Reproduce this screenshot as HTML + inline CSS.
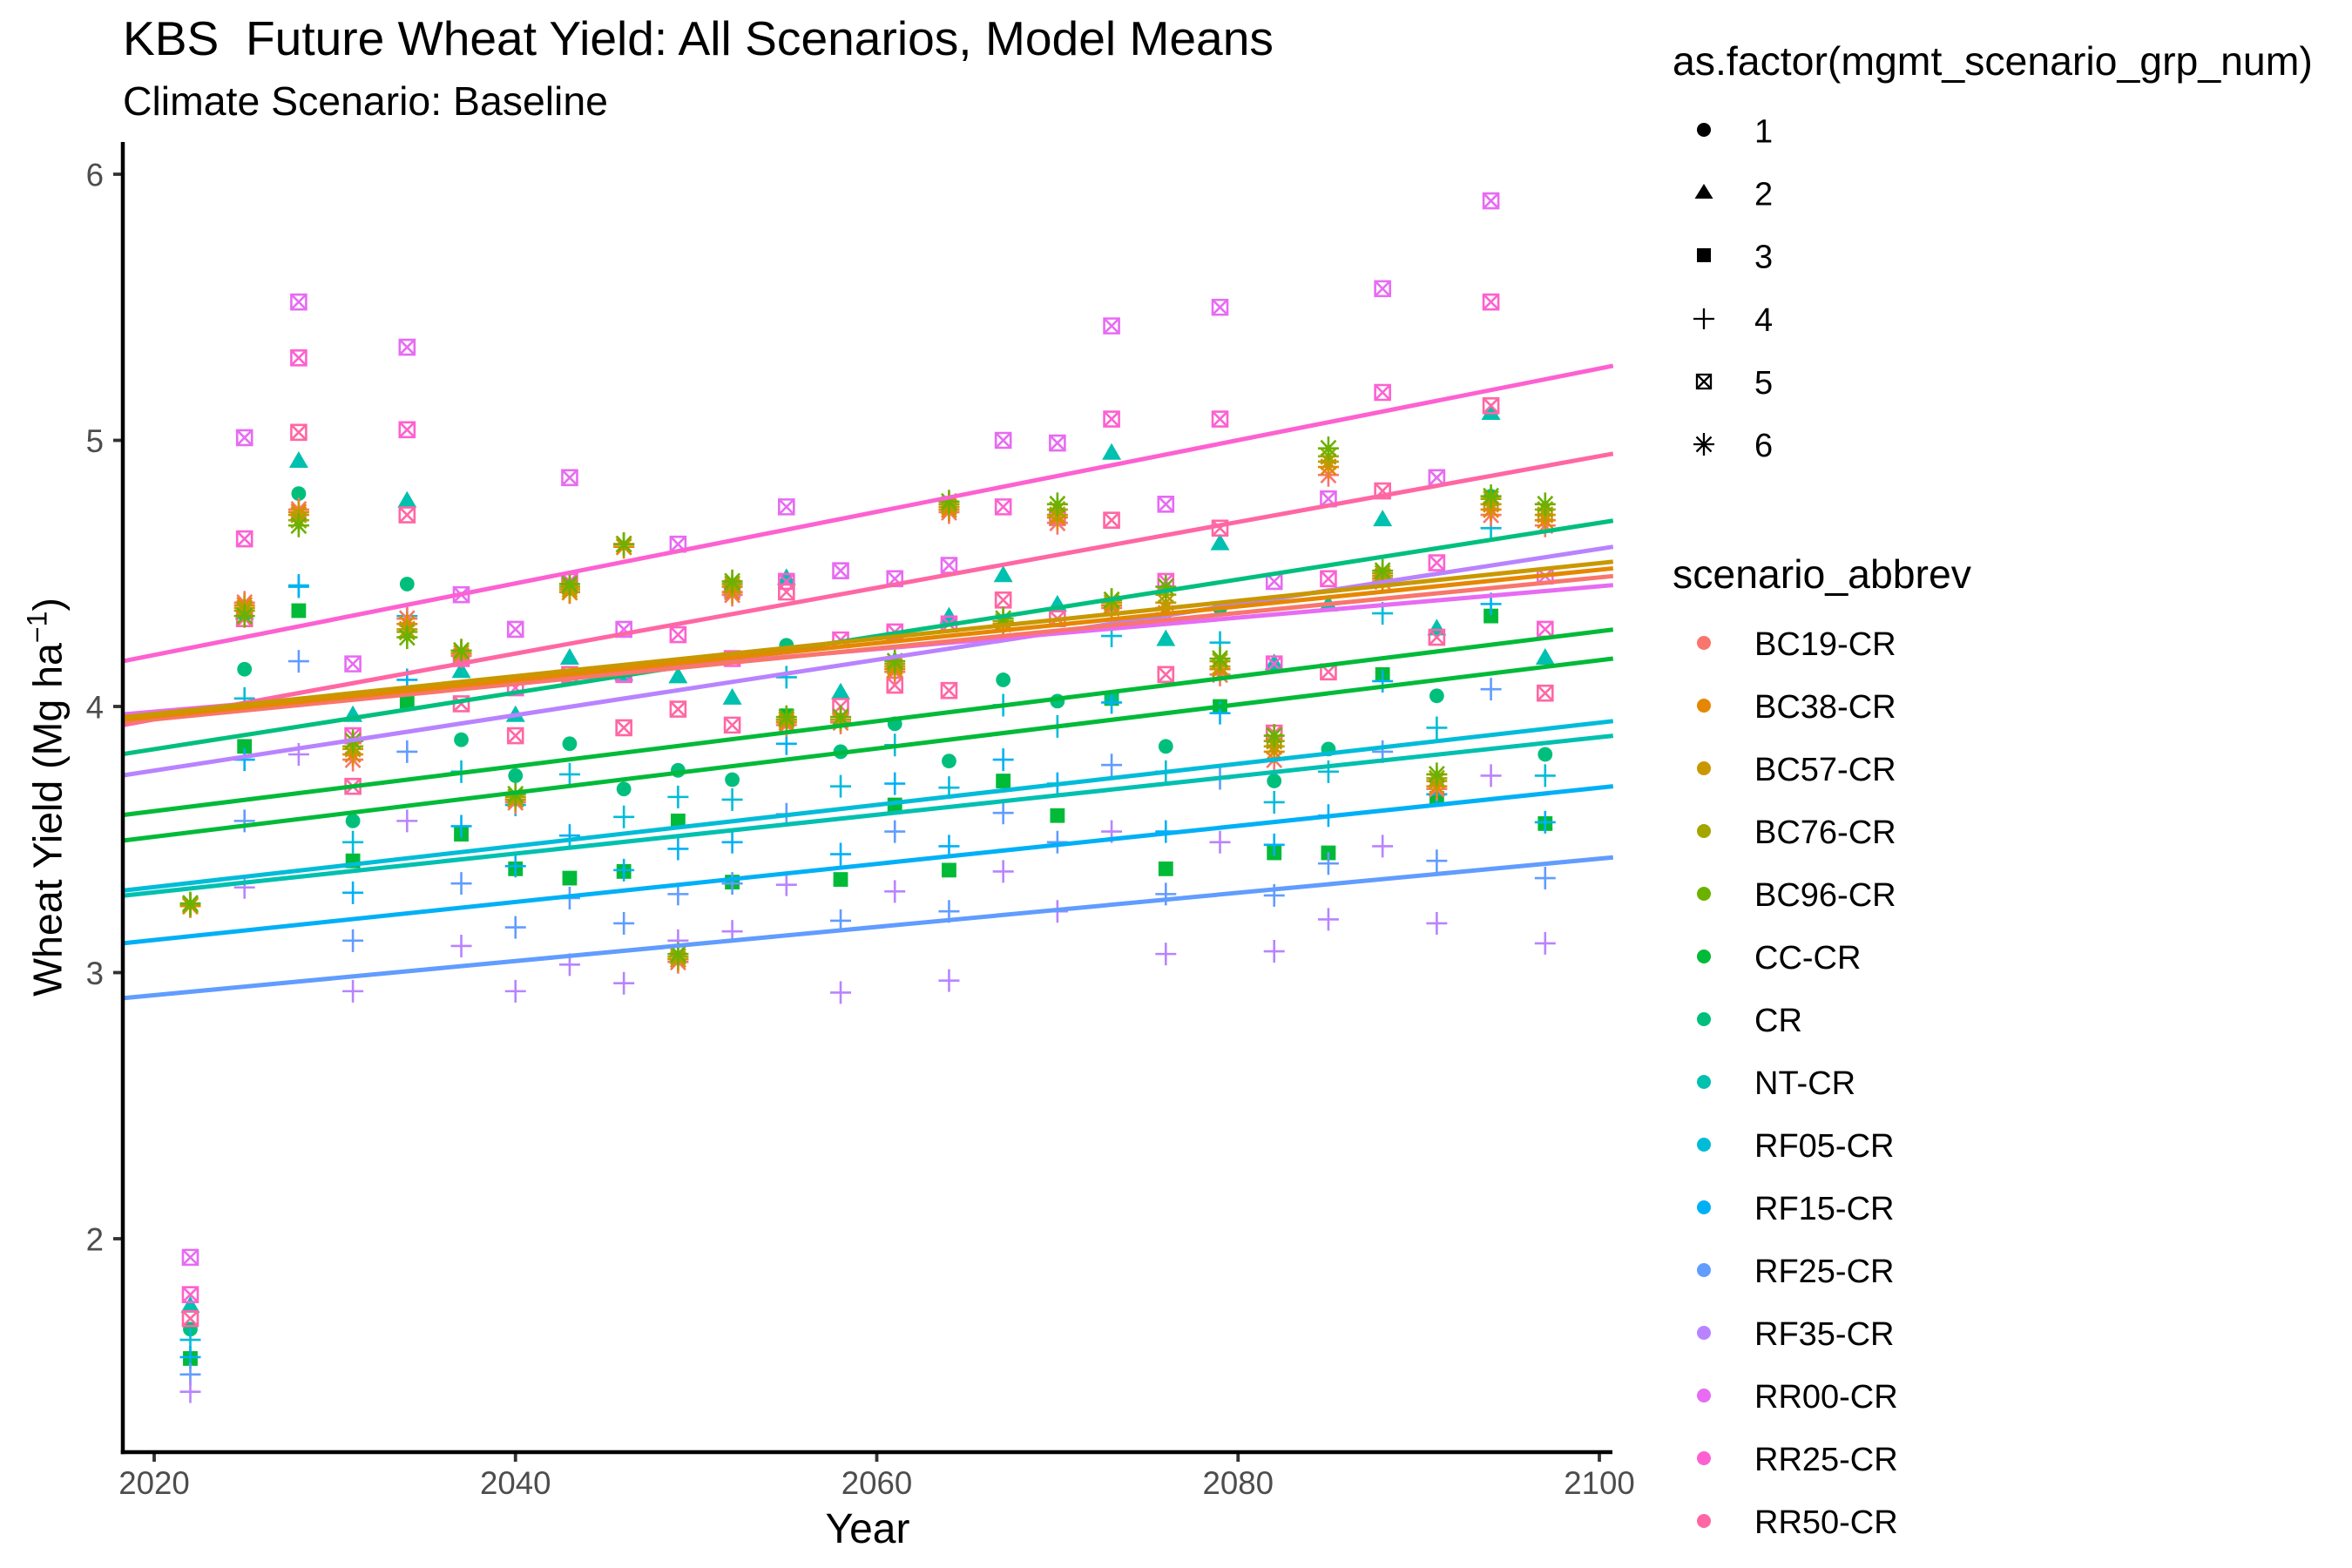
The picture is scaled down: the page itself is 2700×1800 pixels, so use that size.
<!DOCTYPE html>
<html lang="en">
<head>
<meta charset="utf-8">
<title>KBS Future Wheat Yield: All Scenarios, Model Means</title>
<style>
html,body{margin:0;padding:0;background:#fff;}
svg{display:block;font-family:"Liberation Sans",Arial,sans-serif;}
</style>
</head>
<body>
<svg id="chart" xmlns="http://www.w3.org/2000/svg" width="2700" height="1800" viewBox="0 0 2700 1800">
  <rect x="0" y="0" width="2700" height="1800" fill="#fff"/>
  <text x="141" y="63" font-size="55.15" fill="#000" xml:space="preserve">KBS  Future Wheat Yield: All Scenarios, Model Means</text>
  <text x="141" y="132" font-size="46.4" fill="#000">Climate Scenario: Baseline</text>
  <g id="marks"></g>
  <g id="fits"></g>
  <g id="axes"></g>
  <text x="996" y="1771" font-size="48" text-anchor="middle" fill="#000">Year</text>
  <text transform="translate(70.5,915) rotate(-90)" font-size="46.5" text-anchor="middle" fill="#000">Wheat Yield (Mg ha<tspan font-size="32" dy="-17">−1</tspan><tspan dy="17">)</tspan></text>

  <g>
    <text x="1920" y="86" font-size="46.4" fill="#000">as.factor(mgmt_scenario_grp_num)</text>
    <circle cx="1956" cy="149" r="8" fill="#000"/>
    <text x="2014" y="163.5" font-size="38" fill="#000">1</text>
    <polygon points="1956,211 1966.5,228 1945.5,228" fill="#000"/>
    <text x="2014" y="235.5" font-size="38" fill="#000">2</text>
    <rect x="1948" y="285" width="16" height="16" fill="#000"/>
    <text x="2014" y="307.5" font-size="38" fill="#000">3</text>
    <path d="M1944 366H1968M1956 354V378" stroke="#000" stroke-width="2.3" fill="none"/>
    <text x="2014" y="380" font-size="38" fill="#000">4</text>
    <path d="M1948 430H1964V446H1948ZM1948 430L1964 446M1964 430L1948 446" stroke="#000" stroke-width="2.3" fill="none"/>
    <text x="2014" y="452" font-size="38" fill="#000">5</text>
    <path d="M1944 510H1968M1956 497V523M1947.5 501.5L1964.5 518.5M1964.5 501.5L1947.5 518.5" stroke="#000" stroke-width="2.3" fill="none"/>
    <text x="2014" y="524" font-size="38" fill="#000">6</text>
  </g>

  <g>
    <text x="1920" y="675" font-size="46.4" fill="#000">scenario_abbrev</text>
    <circle cx="1956" cy="738" r="8" fill="#F8766D"/>
    <text x="2014" y="752" font-size="38" fill="#000">BC19-CR</text>
    <circle cx="1956" cy="810" r="8" fill="#E58700"/>
    <text x="2014" y="824" font-size="38" fill="#000">BC38-CR</text>
    <circle cx="1956" cy="882" r="8" fill="#C99800"/>
    <text x="2014" y="896" font-size="38" fill="#000">BC57-CR</text>
    <circle cx="1956" cy="954" r="8" fill="#A3A500"/>
    <text x="2014" y="968" font-size="38" fill="#000">BC76-CR</text>
    <circle cx="1956" cy="1026" r="8" fill="#6BB100"/>
    <text x="2014" y="1040" font-size="38" fill="#000">BC96-CR</text>
    <circle cx="1956" cy="1098" r="8" fill="#00BA38"/>
    <text x="2014" y="1112" font-size="38" fill="#000">CC-CR</text>
    <circle cx="1956" cy="1170" r="8" fill="#00BF7D"/>
    <text x="2014" y="1184" font-size="38" fill="#000">CR</text>
    <circle cx="1956" cy="1242" r="8" fill="#00C0AF"/>
    <text x="2014" y="1256" font-size="38" fill="#000">NT-CR</text>
    <circle cx="1956" cy="1314" r="8" fill="#00BCD8"/>
    <text x="2014" y="1328" font-size="38" fill="#000">RF05-CR</text>
    <circle cx="1956" cy="1386" r="8" fill="#00B0F6"/>
    <text x="2014" y="1400" font-size="38" fill="#000">RF15-CR</text>
    <circle cx="1956" cy="1458" r="8" fill="#619CFF"/>
    <text x="2014" y="1472" font-size="38" fill="#000">RF25-CR</text>
    <circle cx="1956" cy="1530" r="8" fill="#B983FF"/>
    <text x="2014" y="1544" font-size="38" fill="#000">RF35-CR</text>
    <circle cx="1956" cy="1602" r="8" fill="#E76BF3"/>
    <text x="2014" y="1616" font-size="38" fill="#000">RR00-CR</text>
    <circle cx="1956" cy="1674" r="8" fill="#FD61D1"/>
    <text x="2014" y="1688" font-size="38" fill="#000">RR25-CR</text>
    <circle cx="1956" cy="1746" r="8" fill="#FF67A4"/>
    <text x="2014" y="1760" font-size="38" fill="#000">RR50-CR</text>
  </g>
</svg>
<script>
const years = [2022,2025,2028,2031,2034,2037,2040,2043,2046,2049,2052,2055,2058,2061,2064,2067,2070,2073,2076,2079,2082,2085,2088,2091,2094,2097];
const xTicks = [2020,2040,2060,2080,2100];
const yTicks = [2,3,4,5,6];

const ccValues   = [1.55,3.85,4.36,3.42,4.02,3.52,3.39,3.355,3.38,3.57,3.34,3.965,3.35,3.63,3.385,3.72,3.59,4.03,3.39,4.00,3.45,3.45,4.12,3.655,4.34,3.56];
const crValues   = [1.66,4.14,4.80,3.57,4.46,3.875,3.74,3.86,3.69,3.76,3.725,4.23,3.83,3.935,3.795,4.10,4.02,4.03,3.85,4.37,3.72,3.84,4.49,4.04,4.79,3.82];
const ntValues   = [1.745,4.35,4.92,3.965,4.77,4.13,3.965,4.18,4.12,4.11,4.03,4.48,4.05,4.17,4.335,4.49,4.38,4.95,4.25,4.61,4.16,4.38,4.70,4.29,5.10,4.18];
const rf05Values = [1.62,4.03,4.455,3.49,4.34,3.755,3.63,3.745,3.585,3.66,3.65,4.11,3.70,3.855,3.695,4.005,3.925,4.265,3.755,4.24,3.64,3.755,4.35,3.92,4.67,3.74];
const rf15Values = [1.555,3.80,4.45,3.30,4.10,3.55,3.40,3.515,3.385,3.465,3.49,3.86,3.445,3.71,3.475,3.80,3.71,4.015,3.53,3.975,3.48,3.59,4.095,3.67,4.385,3.565];
const rf25Values = [1.49,3.57,4.17,3.12,3.83,3.335,3.17,3.28,3.185,3.295,3.335,3.595,3.195,3.53,3.23,3.60,3.49,3.78,3.295,3.73,3.29,3.41,3.83,3.42,4.065,3.355];
const rf35Values = [1.425,3.32,3.82,2.93,3.57,3.10,2.93,3.03,2.96,3.12,3.155,3.33,2.925,3.305,2.97,3.38,3.23,3.53,3.07,3.49,3.08,3.20,3.475,3.185,3.74,3.11];
const rr00Values = [1.93,5.01,5.52,4.16,5.35,4.42,4.29,4.86,4.29,4.61,4.44,4.75,4.51,4.48,4.53,5.00,4.99,5.43,4.76,5.50,4.47,4.78,5.57,4.86,5.90,4.49];
const rr25Values = [1.79,4.63,5.31,3.89,5.04,4.18,4.07,4.47,4.12,4.27,4.18,4.47,4.25,4.28,4.31,4.75,4.71,5.08,4.47,5.08,4.16,4.48,5.18,4.54,5.52,4.29];
const rr50Values = [1.70,4.33,5.03,3.70,4.72,4.01,3.89,4.12,3.92,3.99,3.93,4.43,4.00,4.08,4.06,4.40,4.33,4.70,4.12,4.67,3.90,4.13,4.81,4.26,5.13,4.05];
const bc19Values = [3.25,4.39,4.74,3.80,4.33,4.19,3.64,4.43,4.60,3.04,4.42,3.93,3.94,4.13,4.73,4.31,4.69,4.37,4.35,4.12,3.80,4.87,4.47,3.69,4.72,4.68];
const bc38Values = [3.25,4.38,4.73,3.82,4.31,4.20,3.65,4.43,4.60,3.05,4.43,3.94,3.95,4.14,4.74,4.31,4.71,4.38,4.37,4.14,3.83,4.90,4.48,3.70,4.74,4.70];
const bc57Values = [3.255,4.37,4.72,3.84,4.29,4.20,3.65,4.44,4.61,3.05,4.45,3.95,3.95,4.15,4.75,4.32,4.72,4.39,4.39,4.15,3.85,4.92,4.49,3.72,4.76,4.72];
const bc76Values = [3.255,4.36,4.70,3.85,4.28,4.21,3.66,4.45,4.61,3.06,4.46,3.95,3.96,4.16,4.76,4.32,4.74,4.40,4.42,4.17,3.87,4.94,4.50,3.73,4.78,4.74];
const bc96Values = [3.26,4.34,4.68,3.87,4.26,4.21,3.67,4.46,4.61,3.07,4.47,3.96,3.96,4.17,4.77,4.33,4.76,4.40,4.45,4.18,3.89,4.97,4.51,3.745,4.79,4.76];

const fitNames = ["cc-upper","cc-lower","cr","nt","rf05","rf15","rf25","rf35","rr00","rr25","rr50","bc19","bc38","bc57"];
const fitAtLeft  = [3.592,3.496,3.821,3.289,3.308,3.11,2.904,3.741,3.97,4.17,3.93,3.94,3.95,3.96];
const fitAtRight = [4.289,4.18,4.698,3.89,3.945,3.70,3.433,4.60,4.456,5.28,4.95,4.49,4.519,4.544];
const fitColors  = ["#00BA38","#00BA38","#00BF7D","#00C0AF","#00BCD8","#00B0F6","#619CFF","#B983FF","#E76BF3","#FD61D1","#FF67A4","#F8766D","#E58700","#C99800"];

const NS = "http://www.w3.org/2000/svg";
const xScale = function (year) { return 177 + (year - 2020) * 20.7375; };
const yScale = function (value) { return 200 + (6 - value) * 305.5; };
const panelLeftYear = 2018.26;
const panelRightYear = 2100.76;

function svgEl(tag, parent) {
  const el = document.createElementNS(NS, tag);
  parent.appendChild(el);
  return el;
}

function drawMark(parent, shape, cx, cy, color) {
  let el;
  if (shape === "circle") {
    el = svgEl("circle", parent);
    el.setAttribute("cx", cx); el.setAttribute("cy", cy); el.setAttribute("r", 8.4);
    el.setAttribute("fill", color);
  } else if (shape === "triangle") {
    el = svgEl("polygon", parent);
    el.setAttribute("points", cx + "," + (cy - 12) + " " + (cx + 11) + "," + (cy + 7) + " " + (cx - 11) + "," + (cy + 7));
    el.setAttribute("fill", color);
  } else if (shape === "square") {
    el = svgEl("rect", parent);
    el.setAttribute("x", cx - 8.4); el.setAttribute("y", cy - 8.4);
    el.setAttribute("width", 16.8); el.setAttribute("height", 16.8);
    el.setAttribute("fill", color);
  } else {
    el = svgEl("path", parent);
    let d = "";
    if (shape === "plus") {
      d = "M" + (cx - 12) + " " + cy + "H" + (cx + 12) + "M" + cx + " " + (cy - 13) + "V" + (cy + 13);
    } else if (shape === "box") {
      d = "M" + (cx - 8.5) + " " + (cy - 8.5) + "h17v17h-17zM" + (cx - 8.5) + " " + (cy - 8.5) + "l17 17M" + (cx + 8.5) + " " + (cy - 8.5) + "l-17 17";
    } else {
      d = "M" + (cx - 12) + " " + cy + "H" + (cx + 12) + "M" + cx + " " + (cy - 13.5) + "V" + (cy + 13.5) +
          "M" + (cx - 8.5) + " " + (cy - 9) + "L" + (cx + 8.5) + " " + (cy + 9) +
          "M" + (cx + 8.5) + " " + (cy - 9) + "L" + (cx - 8.5) + " " + (cy + 9);
    }
    el.setAttribute("d", d);
    el.setAttribute("fill", "none");
    el.setAttribute("stroke", color);
    el.setAttribute("stroke-width", 2.6);
  }
  return el;
}

function drawSeries(name, values, shape, color) {
  const group = svgEl("g", document.getElementById("marks"));
  
  
  values.forEach(function (value, i) {
    const el = drawMark(group, shape, xScale(years[i]), yScale(value), color);
    
    
  });
}

drawSeries("cc", ccValues, "square", "#00BA38");
drawSeries("cr", crValues, "circle", "#00BF7D");
drawSeries("nt", ntValues, "triangle", "#00C0AF");
drawSeries("rf05", rf05Values, "plus", "#00BCD8");
drawSeries("rf15", rf15Values, "plus", "#00B0F6");
drawSeries("rf25", rf25Values, "plus", "#619CFF");
drawSeries("rf35", rf35Values, "plus", "#B983FF");
drawSeries("rr00", rr00Values, "box", "#E76BF3");
drawSeries("rr25", rr25Values, "box", "#FD61D1");
drawSeries("rr50", rr50Values, "box", "#FF67A4");
drawSeries("bc19", bc19Values, "star", "#F8766D");
drawSeries("bc38", bc38Values, "star", "#E58700");
drawSeries("bc57", bc57Values, "star", "#C99800");
drawSeries("bc76", bc76Values, "star", "#A3A500");
drawSeries("bc96", bc96Values, "star", "#6BB100");

fitNames.forEach(function (name, i) {
  const line = svgEl("line", document.getElementById("fits"));
  line.setAttribute("x1", xScale(panelLeftYear));
  line.setAttribute("y1", yScale(fitAtLeft[i]));
  line.setAttribute("x2", xScale(panelRightYear));
  line.setAttribute("y2", yScale(fitAtRight[i]));
  line.setAttribute("stroke", fitColors[i]);
  line.setAttribute("stroke-width", 5);
  
  
});

const axes = document.getElementById("axes");

xTicks.forEach(function (tick) {
  const mark = svgEl("line", axes);
  mark.setAttribute("x1", xScale(tick)); mark.setAttribute("x2", xScale(tick));
  mark.setAttribute("y1", 1667); mark.setAttribute("y2", 1678);
  mark.setAttribute("stroke", "#333"); mark.setAttribute("stroke-width", 3.8);
  
  
  const label = svgEl("text", axes);
  label.setAttribute("x", xScale(tick)); label.setAttribute("y", 1715);
  label.setAttribute("font-size", 36.67); label.setAttribute("fill", "#4D4D4D");
  label.setAttribute("text-anchor", "middle");
  label.textContent = tick;
  
  
});

yTicks.forEach(function (tick) {
  const mark = svgEl("line", axes);
  mark.setAttribute("x1", 130); mark.setAttribute("x2", 141);
  mark.setAttribute("y1", yScale(tick)); mark.setAttribute("y2", yScale(tick));
  mark.setAttribute("stroke", "#333"); mark.setAttribute("stroke-width", 3.8);
  
  
  const label = svgEl("text", axes);
  label.setAttribute("x", 119); label.setAttribute("y", yScale(tick) + 13.5);
  label.setAttribute("font-size", 36.67); label.setAttribute("fill", "#4D4D4D");
  label.setAttribute("text-anchor", "end");
  label.textContent = tick;
  
  
});

const yAxisLine = svgEl("line", axes);
yAxisLine.setAttribute("x1", 141); yAxisLine.setAttribute("x2", 141);
yAxisLine.setAttribute("y1", 163); yAxisLine.setAttribute("y2", 1669.3);
yAxisLine.setAttribute("stroke", "#000"); yAxisLine.setAttribute("stroke-width", 4.5);



const xAxisLine = svgEl("line", axes);
xAxisLine.setAttribute("x1", 138.7); xAxisLine.setAttribute("x2", 1851);
xAxisLine.setAttribute("y1", 1667); xAxisLine.setAttribute("y2", 1667);
xAxisLine.setAttribute("stroke", "#000"); xAxisLine.setAttribute("stroke-width", 4.5);


</script>
</body>
</html>
